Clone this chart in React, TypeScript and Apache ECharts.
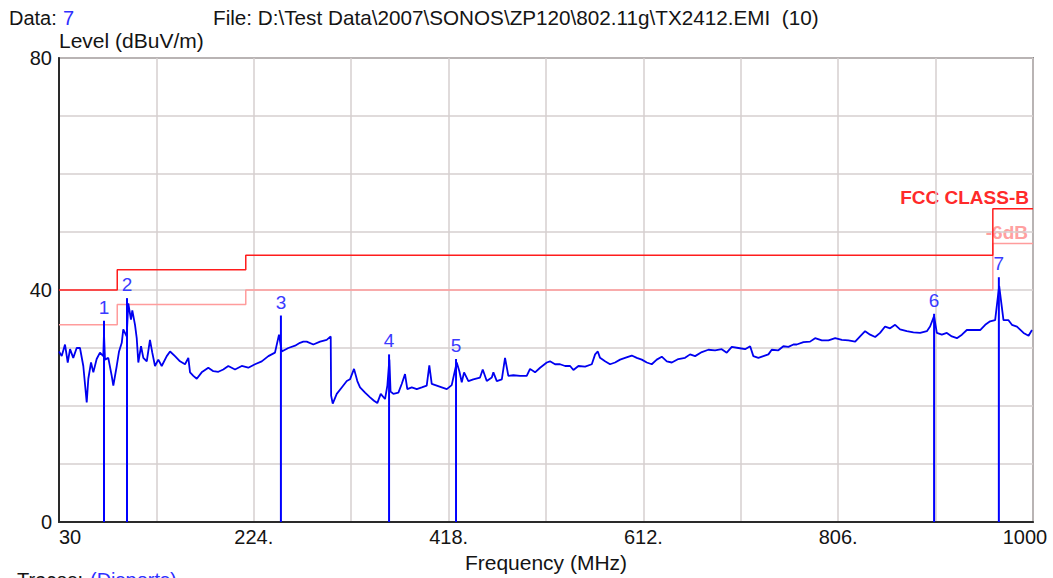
import React, { useEffect, useRef } from "react";
import * as echarts from "echarts";

// ---- measured trace (MHz, dBuV/m) ----
const traceFreq = [
  30, 32.7, 36, 38.7, 41, 44.2, 47.6, 50.9, 54.2, 57.6, 59.2, 61.9, 64.2, 67.5, 70.8, 74.1, 74.8, 75.8, 79.1, 82.5,
  84.1, 87.5, 89.8, 92.5, 94, 97.4, 99, 101.7, 103, 105.7, 107.4, 109, 111.7, 114, 117.4, 120.6, 122.9, 125.6, 128.9, 132.3,
  137.3, 140.6, 145.5, 150.5, 155.5, 158.8, 160.5, 163.8, 167.2, 172.1, 178.7, 183.7, 188.7, 193.6, 198.6, 205.3, 212, 218.5, 225.2, 231.9,
  238.5, 245.1, 249.1, 251.8, 258.4, 265.1, 270, 273.3, 276.7, 283.3, 290, 296.6, 300.6, 301, 302.6, 306.6, 311.6, 316.6, 319.8, 323.8,
  327.1, 329.8, 334.8, 339.8, 343.7, 347, 350.4, 354.7, 357, 359, 360.2, 363, 368, 371.3, 374.6, 376.9, 381.3, 386.3, 391.3, 396.2,
  398.8, 401.2, 406.2, 411.2, 416.2, 421.1, 426.1, 428.7, 431.1, 433.4, 437.7, 442.6, 449.3, 452, 456, 461, 462.6, 466, 471, 474.2,
  477.5, 482.5, 489.2, 495.8, 499.1, 504.1, 509.1, 515.8, 519, 524, 529, 534, 539, 542.3, 547.3, 553.9, 560.6, 563.9, 566.6, 568.8,
  573.8, 578.8, 583.8, 588.8, 593.7, 600.4, 605.4, 610.4, 615.4, 620.3, 625.3, 630.3, 635.3, 640.3, 646.8, 653.5, 658.5, 663.5, 670.2, 676.7,
  683.4, 690, 695, 700, 706.6, 713.3, 718.3, 721.5, 726.5, 731.5, 736.5, 739.8, 746.4, 751.4, 756.4, 761.4, 764.7, 771.4, 778, 783,
  789.7, 796.3, 803, 809.6, 816.2, 822.9, 827.8, 832.8, 837.8, 842.8, 847.7, 852.7, 857.7, 862.7, 867.6, 874.3, 880.9, 887.6, 894.3, 897.5,
  901.5, 904.2, 909.2, 914.2, 919.2, 924.2, 929.2, 934.1, 940.7, 947.4, 952.4, 957.3, 962.3, 966.3, 970.6, 975.6, 979, 984, 990.6, 995.6,
  999,
];
const traceLevel = [
  29.4, 28.6, 30.6, 27.5, 29.8, 28.3, 30.0, 30.0, 26.9, 20.6, 24.7, 27.5, 25.8, 28.1, 29.2, 28.6, 32.5, 28.0, 28.3, 25.2,
  23.5, 26.9, 29.4, 30.9, 33.2, 32.0, 37.7, 34.9, 36.5, 34.0, 31.7, 27.5, 30.3, 28.3, 27.7, 31.4, 29.2, 26.9, 28.0, 26.9,
  28.6, 29.4, 28.6, 27.7, 27.2, 28.3, 25.8, 25.2, 24.7, 25.8, 26.6, 26.0, 25.9, 26.3, 26.9, 26.3, 26.9, 26.6, 27.2, 27.7,
  28.6, 29.2, 32.3, 29.4, 30.0, 30.4, 30.9, 31.1, 31.1, 30.6, 31.1, 31.4, 32.0, 21.8, 20.4, 22.1, 23.2, 24.3, 24.6, 26.4,
  24.3, 23.2, 22.3, 21.5, 20.9, 20.5, 22.1, 21.2, 23.5, 28.0, 22.5, 22.1, 22.3, 23.8, 25.5, 22.9, 23.2, 22.9, 23.2, 23.5,
  27.0, 23.8, 23.5, 23.2, 22.9, 23.6, 27.5, 26.0, 24.1, 25.8, 24.3, 24.6, 24.9, 26.3, 24.3, 24.9, 25.8, 24.3, 24.6, 28.3,
  25.2, 25.3, 25.2, 25.2, 26.4, 25.8, 26.6, 27.5, 27.7, 27.2, 27.2, 26.9, 26.9, 26.2, 26.9, 26.8, 27.2, 28.9, 29.4, 28.3,
  27.7, 27.2, 27.5, 28.0, 28.3, 28.7, 28.3, 28.0, 27.5, 27.2, 28.0, 28.5, 27.7, 27.5, 28.1, 28.3, 28.9, 28.6, 29.3, 29.7,
  29.6, 29.8, 29.2, 30.2, 30.0, 29.8, 30.3, 28.6, 28.3, 28.6, 28.9, 29.7, 29.6, 30.3, 30.2, 30.6, 30.6, 31.0, 31.1, 31.7,
  31.3, 31.3, 31.7, 31.4, 31.3, 31.1, 32.0, 32.9, 32.3, 31.9, 32.6, 33.7, 33.4, 34.0, 33.2, 32.9, 32.7, 32.6, 32.9, 33.7,
  35.5, 32.6, 32.3, 32.6, 32.0, 31.7, 32.3, 33.1, 33.1, 33.1, 34.0, 34.6, 34.8, 40.7, 34.8, 34.8, 34.0, 33.7, 32.6, 32.1,
  33.1,
];

// ---- FCC class B limit and -6 dB margin ----
const limitFreq = [30, 88, 216, 960, 1000];
const limitLevel = [40, 43.5, 46, 54, 54];
const marginLevel = [34, 37.5, 40, 48, 48];

// ---- peak markers ----
const markerFreq = [74.8, 97.7, 251, 358.7, 425.4, 901.5, 966];
const markerLevel = [34.7, 38.6, 35.6, 28.9, 28.1, 35.9, 42.2];
const markerLabel = ["1", "2", "3", "4", "5", "6", "7"];

// ---- axis ticks ----
const xLabelValues = [30, 224, 418, 612, 806, 1000];
const yLabelValues = [0, 40, 80];

const FONT = '"Liberation Sans", Arial, sans-serif';
const INK = "#141414";

export default function App() {
  const ref = useRef<HTMLDivElement>(null);

  useEffect(() => {
    if (!ref.current) return;
    const chart = echarts.init(ref.current, undefined, { renderer: "svg" });

    const trace = traceFreq.map((f, i) => [f, traceLevel[i]]);
    const limit = limitFreq.map((f, i) => [f, limitLevel[i]]);
    const margin = limitFreq.map((f, i) => [f, marginLevel[i]]);
    const markers = markerFreq.map((f, i) => [f, markerLevel[i], i]);

    chart.setOption({
      animation: false,
      backgroundColor: "#ffffff",
      grid: {
        left: 59,
        right: 20,
        top: 58,
        bottom: 50,
        show: true,
        borderColor: "#333333",
        borderWidth: 1.5,
      },
      xAxis: {
        type: "value",
        min: 30,
        max: 1000,
        interval: 97,
        name: "Frequency (MHz)",
        nameLocation: "middle",
        nameGap: 30,
        nameTextStyle: { fontFamily: FONT, fontSize: 21, color: INK },
        axisLine: { show: true, lineStyle: { color: "#2a2a2a", width: 2 } },
        axisTick: { show: false },
        splitLine: { show: true, lineStyle: { color: "#d6cfcf", width: 1.5 } },
        axisLabel: {
          margin: 5,
          fontFamily: FONT,
          fontSize: 20,
          color: INK,
          alignMinLabel: "left",
          showMinLabel: true,
          showMaxLabel: true,
          formatter: (v: number) => {
            const r = Math.round(v);
            if (!xLabelValues.includes(r)) return "";
            if (r === 30) return "30";
            if (r === 1000) return "{m|1000}";
            return r + ".";
          },
          rich: {
            m: { fontFamily: FONT, fontSize: 20, color: INK, padding: [0, 16, 0, 0] },
          },
        },
      },
      yAxis: {
        type: "value",
        min: 0,
        max: 80,
        interval: 10,
        axisLine: { show: true, lineStyle: { color: "#2a2a2a", width: 2 } },
        axisTick: { show: false },
        splitLine: { show: true, lineStyle: { color: "#d6cfcf", width: 1.5 } },
        axisLabel: {
          margin: 7,
          fontFamily: FONT,
          fontSize: 20,
          color: INK,
          formatter: (v: number) => (yLabelValues.includes(Math.round(v)) ? String(Math.round(v)) : ""),
        },
      },
      graphic: [
        { type: "text", x: 9, y: 17.5, style: { text: "Data:", fill: INK, fontFamily: FONT, fontSize: 20, verticalAlign: "middle" } },
        { type: "text", x: 63, y: 17.5, style: { text: "7", fill: "#2f2fff", fontFamily: FONT, fontSize: 20, verticalAlign: "middle" } },
        {
          type: "text",
          x: 213,
          y: 17.5,
          style: {
            text: "File: D:\\Test Data\\2007\\SONOS\\ZP120\\802.11g\\TX2412.EMI  (10)",
            fill: INK,
            fontFamily: FONT,
            fontSize: 20.7,
            verticalAlign: "middle",
          },
        },
        { type: "text", x: 59, y: 40, style: { text: "Level (dBuV/m)", fill: INK, fontFamily: FONT, fontSize: 21, verticalAlign: "middle" } },
        {
          type: "text",
          x: 1029,
          y: 197,
          style: { text: "FCC CLASS-B", fill: "#ff2a2a", fontFamily: FONT, fontSize: 19, fontWeight: "bold", align: "right", verticalAlign: "middle" },
        },
        {
          type: "text",
          x: 1028,
          y: 232,
          style: { text: "-6dB", fill: "#ffa0a0", fontFamily: FONT, fontSize: 19, fontWeight: "bold", align: "right", verticalAlign: "middle" },
        },
        { type: "text", x: 17, y: 570, style: { text: "Traces:", fill: INK, fontFamily: FONT, fontSize: 20, verticalAlign: "top" } },
        { type: "text", x: 90, y: 570, style: { text: "(Disports)", fill: "#2f2fff", fontFamily: FONT, fontSize: 20, verticalAlign: "top" } },
      ],
      series: [
        {
          name: "-6dB",
          type: "line",
          data: margin,
          step: "end",
          showSymbol: false,
          lineStyle: { color: "#ff9c9c", width: 1.5 },
          z: 2,
        },
        {
          name: "FCC CLASS-B",
          type: "line",
          data: limit,
          step: "end",
          showSymbol: false,
          lineStyle: { color: "#ff1c1c", width: 1.5 },
          z: 3,
        },
        {
          name: "Trace",
          type: "line",
          data: trace,
          showSymbol: false,
          lineStyle: { color: "#0000f0", width: 1.8 },
          z: 4,
        },
        {
          name: "Markers",
          type: "custom",
          data: markers,
          encode: { x: 0, y: 1 },
          z: 5,
          renderItem: (params: any, api: any) => {
            const f = api.value(0);
            const v = api.value(1);
            const idx = api.value(2);
            const p0 = api.coord([f, 0]);
            const p1 = api.coord([f, v]);
            return {
              type: "group",
              children: [
                {
                  type: "line",
                  shape: { x1: p0[0], y1: p0[1], x2: p1[0], y2: p1[1] },
                  style: { stroke: "#0000ff", lineWidth: 2 },
                },
                {
                  type: "text",
                  x: p1[0],
                  y: p1[1] - 4,
                  style: {
                    text: markerLabel[idx],
                    fill: "#3a3aff",
                    fontFamily: FONT,
                    fontSize: 19,
                    align: "center",
                    verticalAlign: "bottom",
                  },
                },
              ],
            };
          },
        },
      ],
    });

    return () => chart.dispose();
  }, []);

  return (
    <div
      ref={ref}
      style={{ position: "fixed", left: 0, top: 0, width: 1053, height: 578, background: "#fff" }}
    />
  );
}
